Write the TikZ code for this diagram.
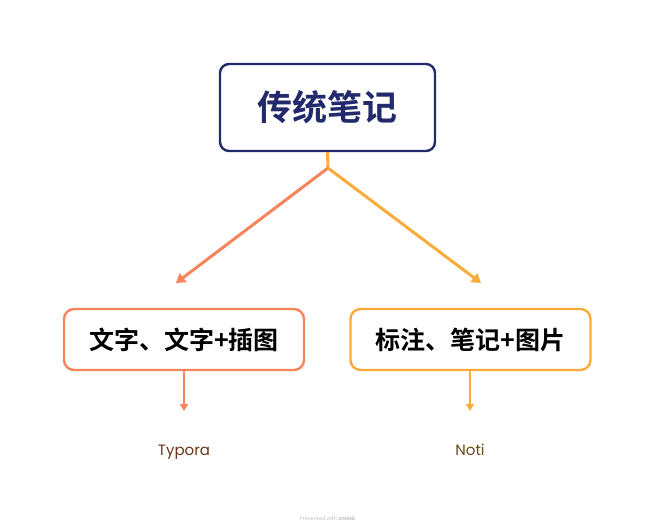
\documentclass[tikz,border=0pt]{standalone}
\usepackage{fontspec}
\setmainfont{Poppins}
\newfontfamily\cjk{Noto Sans CJK SC}[BoldFont={Noto Sans CJK SC Bold}]
\usetikzlibrary{arrows.meta}
\definecolor{navy}{HTML}{232A6B}
\definecolor{coral}{HTML}{F7845A}
\definecolor{amber}{HTML}{F9AB3B}
\definecolor{brownA}{HTML}{6B3419}
\definecolor{brownB}{HTML}{6B4A12}
\tikzset{
  rootbox/.style={draw=navy, line width=2.4pt, rounded corners=9pt, fill=white,
    minimum width=215pt, minimum height=87pt, font=\cjk\bfseries\fontsize{35}{40}\selectfont, text=navy},
  subbox/.style={line width=2.4pt, rounded corners=10pt, fill=white,
    minimum width=240pt, minimum height=61pt, font=\cjk\bfseries\fontsize{25}{29}\selectfont, text=black},
  branch/.style={line width=3pt, -{Triangle[length=9pt,width=11pt]}},
  leafarrow/.style={line width=2pt, -{Triangle[length=7pt,width=8pt]}},
  leaf/.style={font=\fontsize{15}{18}\selectfont, inner sep=0pt, anchor=base},
}
\begin{document}
\begin{tikzpicture}[x=1pt,y=-1pt]
\useasboundingbox (0,0) rectangle (655,530);
\node[rootbox] (root) at (327.5,107.5) {传统笔记};
\node[subbox, draw=coral] (left) at (184,339.5) {文字、文字+插图};
\node[subbox, draw=amber] (right) at (470.5,339.5) {标注、笔记+图片};
\coordinate (split) at (328,168);
\coordinate (lt) at (176,283);
\coordinate (rt) at (481,283);
\draw[amber, line width=3pt] (root.south) -- (split);
\draw[branch, coral] (split) -- (lt);
\draw[branch, amber] (split) -- (rt);
\node[leaf, text=brownA] (typora) at (184,455.5) {Typora};
\node[leaf, text=brownB] (noti) at (470,455.5) {Noti};
\coordinate (la) at (184,411);
\coordinate (ra) at (470,411);
\draw[leafarrow, coral] (left.south -| la) -- (la);
\draw[leafarrow, amber] (right.south -| ra) -- (ra);
\node[font=\fontsize{5}{6}\selectfont, text=black!25] (wm) at (327.5,519) {Presented with \textbf{xmind}};
\end{tikzpicture}
\end{document}
